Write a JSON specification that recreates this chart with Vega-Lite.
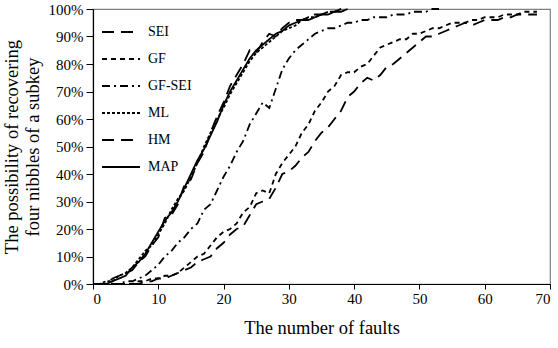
{
 "$schema": "https://vega.github.io/schema/vega-lite/v6.json",
 "width": 457, "height": 275,
 "autosize": {"type": "none"},
 "padding": {"left": 93, "top": 9, "right": 8, "bottom": 64},
 "config": {
  "font": "Times New Roman",
  "view": {"stroke": "#808080", "strokeWidth": 1.2},
  "axis": {"grid": false, "domainColor": "#000", "domainWidth": 1.2, "tickColor": "#000", "labelColor": "#000", "titleColor": "#000",
   "labelFont": "Times New Roman", "titleFont": "Times New Roman", "labelFontSize": 15, "titleFontSize": 18.5, "titleFontWeight": "normal"}
 },
 "data": {"values": [
  {"s":"MAP","x":0,"y":0},{"s":"MAP","x":1,"y":0},{"s":"MAP","x":2,"y":0},{"s":"MAP","x":3,"y":1},{"s":"MAP","x":4,"y":2},{"s":"MAP","x":5,"y":3},{"s":"MAP","x":6,"y":6},{"s":"MAP","x":7,"y":8},{"s":"MAP","x":8,"y":11},{"s":"MAP","x":9,"y":15},{"s":"MAP","x":10,"y":19},{"s":"MAP","x":11,"y":23},{"s":"MAP","x":12,"y":26},{"s":"MAP","x":13,"y":30},{"s":"MAP","x":14,"y":35},{"s":"MAP","x":15,"y":40},{"s":"MAP","x":16,"y":45},{"s":"MAP","x":17,"y":49},{"s":"MAP","x":18,"y":54},{"s":"MAP","x":19,"y":59},{"s":"MAP","x":20,"y":65},{"s":"MAP","x":21,"y":70},{"s":"MAP","x":22,"y":74},{"s":"MAP","x":23,"y":78},{"s":"MAP","x":24,"y":82},{"s":"MAP","x":25,"y":85},{"s":"MAP","x":26,"y":87},{"s":"MAP","x":27,"y":89},{"s":"MAP","x":28,"y":91},{"s":"MAP","x":29,"y":92},{"s":"MAP","x":30,"y":94},{"s":"MAP","x":31,"y":95},{"s":"MAP","x":32,"y":96},{"s":"MAP","x":33,"y":96},{"s":"MAP","x":34,"y":97},{"s":"MAP","x":35,"y":98},{"s":"MAP","x":36,"y":98},{"s":"MAP","x":37,"y":99},{"s":"MAP","x":38,"y":99},{"s":"MAP","x":39,"y":100},
  {"s":"ML","x":0,"y":0},{"s":"ML","x":1,"y":0},{"s":"ML","x":2,"y":1},{"s":"ML","x":3,"y":1},{"s":"ML","x":4,"y":3},{"s":"ML","x":5,"y":4},{"s":"ML","x":6,"y":6},{"s":"ML","x":7,"y":9},{"s":"ML","x":8,"y":12},{"s":"ML","x":9,"y":14},{"s":"ML","x":10,"y":18},{"s":"ML","x":11,"y":22},{"s":"ML","x":12,"y":27},{"s":"ML","x":13,"y":31},{"s":"ML","x":14,"y":34},{"s":"ML","x":15,"y":39},{"s":"ML","x":16,"y":44},{"s":"ML","x":17,"y":50},{"s":"ML","x":18,"y":55},{"s":"ML","x":19,"y":60},{"s":"ML","x":20,"y":64},{"s":"ML","x":21,"y":69},{"s":"ML","x":22,"y":73},{"s":"ML","x":23,"y":77},{"s":"ML","x":24,"y":81},{"s":"ML","x":25,"y":84},{"s":"ML","x":26,"y":86},{"s":"ML","x":27,"y":88},{"s":"ML","x":28,"y":90},{"s":"ML","x":29,"y":92},{"s":"ML","x":30,"y":93},{"s":"ML","x":31,"y":94},{"s":"ML","x":32,"y":96},{"s":"ML","x":33,"y":97},{"s":"ML","x":34,"y":97},{"s":"ML","x":35,"y":98},{"s":"ML","x":36,"y":99},{"s":"ML","x":37,"y":99},{"s":"ML","x":38,"y":100},
  {"s":"HM","x":0,"y":0},{"s":"HM","x":1,"y":0},{"s":"HM","x":2,"y":0},{"s":"HM","x":3,"y":2},{"s":"HM","x":4,"y":3},{"s":"HM","x":5,"y":4},{"s":"HM","x":6,"y":5},{"s":"HM","x":7,"y":8},{"s":"HM","x":8,"y":10},{"s":"HM","x":9,"y":14},{"s":"HM","x":10,"y":17},{"s":"HM","x":11,"y":24},{"s":"HM","x":12,"y":25},{"s":"HM","x":13,"y":29},{"s":"HM","x":14,"y":36},{"s":"HM","x":15,"y":38},{"s":"HM","x":16,"y":44},{"s":"HM","x":17,"y":48},{"s":"HM","x":18,"y":55},{"s":"HM","x":19,"y":61},{"s":"HM","x":20,"y":66},{"s":"HM","x":21,"y":72},{"s":"HM","x":22,"y":76},{"s":"HM","x":23,"y":80},{"s":"HM","x":24,"y":85},{"s":"HM","x":25,"y":84},{"s":"HM","x":26,"y":88},{"s":"HM","x":27,"y":91},{"s":"HM","x":28,"y":90},{"s":"HM","x":29,"y":93},{"s":"HM","x":30,"y":95},{"s":"HM","x":31,"y":96},{"s":"HM","x":32,"y":96},{"s":"HM","x":33,"y":97},{"s":"HM","x":34,"y":98},{"s":"HM","x":35,"y":98},{"s":"HM","x":36,"y":99},{"s":"HM","x":37,"y":99},{"s":"HM","x":38,"y":100},
  {"s":"GF-SEI","x":0,"y":0},{"s":"GF-SEI","x":2,"y":0},{"s":"GF-SEI","x":4,"y":0},{"s":"GF-SEI","x":5,"y":1},{"s":"GF-SEI","x":6,"y":1},{"s":"GF-SEI","x":7,"y":2},{"s":"GF-SEI","x":8,"y":3},{"s":"GF-SEI","x":9,"y":5},{"s":"GF-SEI","x":10,"y":7},{"s":"GF-SEI","x":11,"y":10},{"s":"GF-SEI","x":12,"y":12},{"s":"GF-SEI","x":13,"y":15},{"s":"GF-SEI","x":14,"y":17},{"s":"GF-SEI","x":15,"y":20},{"s":"GF-SEI","x":16,"y":22},{"s":"GF-SEI","x":17,"y":27},{"s":"GF-SEI","x":18,"y":29},{"s":"GF-SEI","x":19,"y":34},{"s":"GF-SEI","x":20,"y":39},{"s":"GF-SEI","x":21,"y":43},{"s":"GF-SEI","x":22,"y":48},{"s":"GF-SEI","x":23,"y":52},{"s":"GF-SEI","x":24,"y":58},{"s":"GF-SEI","x":25,"y":62},{"s":"GF-SEI","x":26,"y":66},{"s":"GF-SEI","x":27,"y":64},{"s":"GF-SEI","x":28,"y":71},{"s":"GF-SEI","x":29,"y":78},{"s":"GF-SEI","x":30,"y":82},{"s":"GF-SEI","x":31,"y":85},{"s":"GF-SEI","x":32,"y":87},{"s":"GF-SEI","x":33,"y":89},{"s":"GF-SEI","x":34,"y":91},{"s":"GF-SEI","x":35,"y":92},{"s":"GF-SEI","x":36,"y":93},{"s":"GF-SEI","x":37,"y":93},{"s":"GF-SEI","x":38,"y":94},{"s":"GF-SEI","x":39,"y":95},{"s":"GF-SEI","x":40,"y":95},{"s":"GF-SEI","x":41,"y":96},{"s":"GF-SEI","x":42,"y":96},{"s":"GF-SEI","x":43,"y":97},{"s":"GF-SEI","x":44,"y":97},{"s":"GF-SEI","x":45,"y":97},{"s":"GF-SEI","x":46,"y":98},{"s":"GF-SEI","x":47,"y":98},{"s":"GF-SEI","x":48,"y":98},{"s":"GF-SEI","x":49,"y":99},{"s":"GF-SEI","x":50,"y":99},{"s":"GF-SEI","x":51,"y":99},{"s":"GF-SEI","x":52,"y":100},{"s":"GF-SEI","x":53,"y":100},
  {"s":"GF","x":0,"y":0},{"s":"GF","x":3,"y":0},{"s":"GF","x":6,"y":0},{"s":"GF","x":7,"y":1},{"s":"GF","x":8,"y":1},{"s":"GF","x":9,"y":2},{"s":"GF","x":10,"y":2},{"s":"GF","x":11,"y":3},{"s":"GF","x":12,"y":3},{"s":"GF","x":13,"y":4},{"s":"GF","x":14,"y":6},{"s":"GF","x":15,"y":8},{"s":"GF","x":16,"y":10},{"s":"GF","x":17,"y":11},{"s":"GF","x":18,"y":14},{"s":"GF","x":19,"y":17},{"s":"GF","x":20,"y":19},{"s":"GF","x":21,"y":20},{"s":"GF","x":22,"y":22},{"s":"GF","x":23,"y":26},{"s":"GF","x":24,"y":28},{"s":"GF","x":25,"y":33},{"s":"GF","x":26,"y":34},{"s":"GF","x":27,"y":33},{"s":"GF","x":28,"y":40},{"s":"GF","x":29,"y":44},{"s":"GF","x":30,"y":47},{"s":"GF","x":31,"y":50},{"s":"GF","x":32,"y":55},{"s":"GF","x":33,"y":58},{"s":"GF","x":34,"y":63},{"s":"GF","x":35,"y":66},{"s":"GF","x":36,"y":70},{"s":"GF","x":37,"y":72},{"s":"GF","x":38,"y":76},{"s":"GF","x":39,"y":77},{"s":"GF","x":40,"y":77},{"s":"GF","x":41,"y":79},{"s":"GF","x":42,"y":80},{"s":"GF","x":43,"y":83},{"s":"GF","x":44,"y":86},{"s":"GF","x":45,"y":87},{"s":"GF","x":46,"y":88},{"s":"GF","x":47,"y":89},{"s":"GF","x":48,"y":89},{"s":"GF","x":49,"y":91},{"s":"GF","x":50,"y":91},{"s":"GF","x":51,"y":92},{"s":"GF","x":52,"y":93},{"s":"GF","x":53,"y":93},{"s":"GF","x":54,"y":94},{"s":"GF","x":55,"y":95},{"s":"GF","x":56,"y":95},{"s":"GF","x":57,"y":95},{"s":"GF","x":58,"y":96},{"s":"GF","x":59,"y":96},{"s":"GF","x":60,"y":97},{"s":"GF","x":61,"y":97},{"s":"GF","x":62,"y":97},{"s":"GF","x":63,"y":98},{"s":"GF","x":64,"y":98},{"s":"GF","x":65,"y":98},{"s":"GF","x":66,"y":99},{"s":"GF","x":67,"y":99},{"s":"GF","x":68,"y":99},
  {"s":"SEI","x":0,"y":0},{"s":"SEI","x":4,"y":0},{"s":"SEI","x":7,"y":0},{"s":"SEI","x":8,"y":1},{"s":"SEI","x":9,"y":1},{"s":"SEI","x":10,"y":2},{"s":"SEI","x":11,"y":2},{"s":"SEI","x":12,"y":3},{"s":"SEI","x":13,"y":4},{"s":"SEI","x":14,"y":5},{"s":"SEI","x":15,"y":6},{"s":"SEI","x":16,"y":8},{"s":"SEI","x":17,"y":9},{"s":"SEI","x":18,"y":10},{"s":"SEI","x":19,"y":13},{"s":"SEI","x":20,"y":15},{"s":"SEI","x":21,"y":18},{"s":"SEI","x":22,"y":20},{"s":"SEI","x":23,"y":21},{"s":"SEI","x":24,"y":25},{"s":"SEI","x":25,"y":29},{"s":"SEI","x":26,"y":30},{"s":"SEI","x":27,"y":31},{"s":"SEI","x":28,"y":35},{"s":"SEI","x":29,"y":40},{"s":"SEI","x":30,"y":41},{"s":"SEI","x":31,"y":43},{"s":"SEI","x":32,"y":46},{"s":"SEI","x":33,"y":48},{"s":"SEI","x":34,"y":52},{"s":"SEI","x":35,"y":55},{"s":"SEI","x":36,"y":57},{"s":"SEI","x":37,"y":60},{"s":"SEI","x":38,"y":63},{"s":"SEI","x":39,"y":68},{"s":"SEI","x":40,"y":70},{"s":"SEI","x":41,"y":73},{"s":"SEI","x":42,"y":75},{"s":"SEI","x":43,"y":74},{"s":"SEI","x":44,"y":76},{"s":"SEI","x":45,"y":79},{"s":"SEI","x":46,"y":80},{"s":"SEI","x":47,"y":82},{"s":"SEI","x":48,"y":84},{"s":"SEI","x":49,"y":86},{"s":"SEI","x":50,"y":88},{"s":"SEI","x":51,"y":90},{"s":"SEI","x":52,"y":90},{"s":"SEI","x":53,"y":91},{"s":"SEI","x":54,"y":92},{"s":"SEI","x":55,"y":93},{"s":"SEI","x":56,"y":94},{"s":"SEI","x":57,"y":95},{"s":"SEI","x":58,"y":94},{"s":"SEI","x":59,"y":95},{"s":"SEI","x":60,"y":96},{"s":"SEI","x":61,"y":96},{"s":"SEI","x":62,"y":96},{"s":"SEI","x":63,"y":97},{"s":"SEI","x":64,"y":97},{"s":"SEI","x":65,"y":98},{"s":"SEI","x":66,"y":98},{"s":"SEI","x":67,"y":98},{"s":"SEI","x":68,"y":98}
 ]},
 "mark": {"type": "line", "strokeWidth": 1.8, "color": "black"},
 "encoding": {
  "x": {"field": "x", "type": "quantitative", "scale": {"domain": [0, 70], "nice": false},
   "axis": {"values": [0,10,20,30,40,50,60,70], "title": "The number of faults", "titlePadding": 12, "labelPadding": 2, "tickSize": 5}},
  "y": {"field": "y", "type": "quantitative", "scale": {"domain": [0, 100], "nice": false},
   "axis": {"values": [0,10,20,30,40,50,60,70,80,90,100], "labelExpr": "datum.value + '%'", "labelPadding": 3, "tickSize": 7,
    "title": ["The possibility of recovering", "four nibbles of a subkey"], "titlePadding": 6, "titleLineHeight": 21}},
  "strokeDash": {"field": "s", "type": "nominal",
   "scale": {"domain": ["SEI", "GF", "GF-SEI", "ML", "HM", "MAP"], "range": [[12, 7], [5, 4], [8, 4, 2, 4], [3, 2], [12, 7], [1, 0]]},
   "legend": {"title": null, "orient": "none", "legendX": 8, "legendY": 3, "padding": 0,
    "symbolType": "stroke", "symbolSize": 1444, "symbolStrokeWidth": 2, "symbolStrokeColor": "black",
    "labelFont": "Times New Roman", "labelFontSize": 14, "labelColor": "black", "labelOffset": 7, "rowPadding": -10.6}}
 }
}
